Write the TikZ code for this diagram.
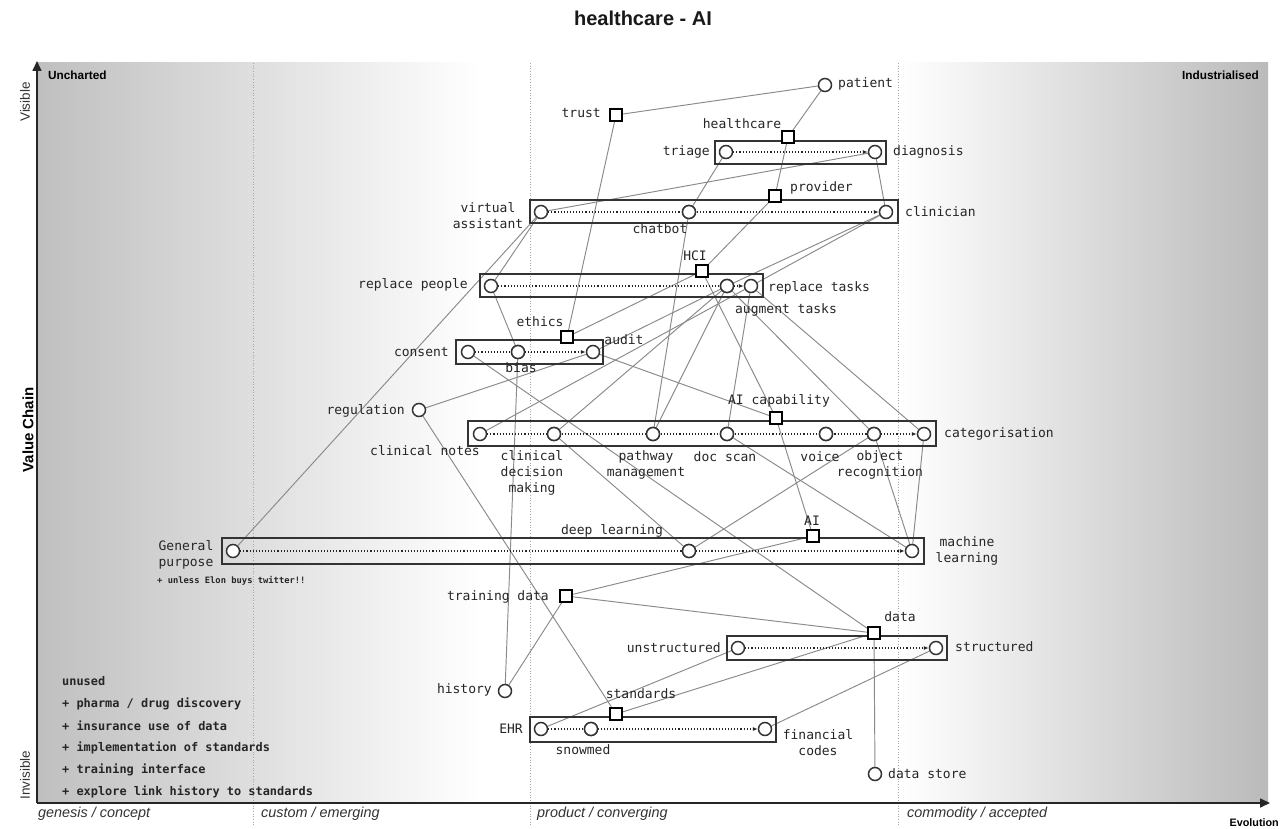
\documentclass[tikz,border=0pt]{standalone}
\usepackage{fontspec}
\setmainfont{Liberation Sans}
\setmonofont{DejaVu Sans Mono}
\usetikzlibrary{arrows.meta}
\pgfdeclarelayer{back}
\pgfdeclarelayer{links}
\pgfsetlayers{back,links,main}
\newcommand\monolbl{\ttfamily\fontsize{13}{16}\selectfont}
\newcommand\monobold{\ttfamily\bfseries\fontsize{11.9}{14}\selectfont}
\definecolor{linkgray}{HTML}{8A8A8A}
\definecolor{edgegray}{HTML}{333333}
\begin{document}
\begin{tikzpicture}[x=1pt,y=-1pt,
  comp/.style={circle,draw=edgegray,fill=white,line width=1.5pt,minimum size=13pt,inner sep=0pt},
  sq/.style={rectangle,draw=black,fill=white,line width=2.2pt,minimum size=11.5pt,inner sep=0pt},
  lbl/.style={font=\monolbl,inner sep=0pt,text=black!85},
  link/.style={draw=linkgray,line width=0.95pt},
  evo/.style={draw=black!85,dotted,line width=1.1pt,-{Latex[length=5pt,width=4pt]}},
  pipe/.style={draw=edgegray,line width=1.1pt},
  stage/.style={font=\itshape\fontsize{14.4}{16}\selectfont,text=black!80,anchor=west,inner sep=0pt},
  note/.style={font=\monobold,anchor=west,inner sep=0pt,text=black!85}]
\useasboundingbox (0,0) rectangle (1286,829);
\begin{pgfonlayer}{back}
\fill[white] (0,0) rectangle (1286,829);
\shade[left color=black!25,right color=white] (37,63) rectangle (480,803);
\shade[left color=white,right color=black!27] (900,63) rectangle (1268,803);
\foreach \xx in {253,530,898}{
  \draw[black!35,dotted,line width=0.7pt] (\xx,63) -- (\xx,826);
}
\end{pgfonlayer}
% axes
\draw[line width=1.6pt,black!85,-{Triangle[length=10pt,width=9pt]}] (37,803) -- (37,61);
\draw[line width=1.6pt,black!85,-{Triangle[length=10pt,width=9pt]}] (37,803) -- (1270,803);
% title and axis texts
\node[font=\bfseries\fontsize{20}{22}\selectfont,text=black!90] (title) at (643,18) {healthcare - AI};
\node[font=\bfseries\fontsize{11.8}{13}\selectfont,anchor=west,inner sep=0pt] (unch) at (48,75) {Uncharted};
\node[font=\bfseries\fontsize{11.8}{13}\selectfont,anchor=east,inner sep=0pt] (indu) at (1259,75) {Industrialised};
\node[font=\fontsize{13.5}{15}\selectfont,rotate=90,inner sep=0pt,text=black!80] (vis) at (25,102) {Visible};
\node[font=\bfseries\fontsize{15}{17}\selectfont,rotate=90,inner sep=0pt] (vchain) at (28,430) {Value Chain};
\node[font=\fontsize{13.5}{15}\selectfont,rotate=90,inner sep=0pt,text=black!80] (invis) at (25,775) {Invisible};
\node[stage] (s1) at (38,814) {genesis / concept};
\node[stage] (s2) at (261,814) {custom / emerging};
\node[stage] (s3) at (537,814) {product / converging};
\node[stage] (s4) at (907,814) {commodity / accepted};
\node[font=\bfseries\fontsize{10.8}{13}\selectfont,anchor=east,inner sep=0pt] (evol) at (1279,823) {Evolution};
% notes
\node[note] (u0) at (62,681) {unused};
\node[note] (u1) at (62,704) {+ pharma / drug discovery};
\node[note] (u2) at (62,726) {+ insurance use of data};
\node[note] (u3) at (62,748) {+ implementation of standards};
\node[note] (u4) at (62,770) {+ training interface};
\node[note] (u5) at (62,792) {+ explore link history to standards};
\node[note,font=\ttfamily\bfseries\fontsize{8.8}{11}\selectfont] (elon) at (157,581) {+ unless Elon buys twitter!!};
% pipeline boxes
\draw[pipe] (715,141) rectangle (886,164);
\draw[pipe] (530,200) rectangle (898,223);
\draw[pipe] (480,274) rectangle (763,297);
\draw[pipe] (456,340) rectangle (603,364);
\draw[pipe] (468,421) rectangle (936,446);
\draw[pipe] (222,538) rectangle (924,564);
\draw[pipe] (727,636) rectangle (947,660);
\draw[pipe] (530,717) rectangle (776,742);
% components
\node[comp] (patient) at (825,85) {};
\node[sq] (trust) at (616,115) {};
\node[sq] (healthcare) at (788,137) {};
\node[comp] (triage) at (726,152) {};
\node[comp] (diagnosis) at (875,152) {};
\node[sq] (provider) at (775,196) {};
\node[comp] (va) at (541,212) {};
\node[comp] (chatbot) at (689,212) {};
\node[comp] (clinician) at (886,212) {};
\node[sq] (hci) at (702,271) {};
\node[comp] (rpeople) at (491,286) {};
\node[comp] (atasks) at (727,286) {};
\node[comp] (rtasks) at (751,286) {};
\node[sq] (ethics) at (567,337) {};
\node[comp] (consent) at (468,352) {};
\node[comp] (bias) at (518,352) {};
\node[comp] (audit) at (593,352) {};
\node[comp] (regulation) at (419,410) {};
\node[sq] (aicap) at (776,418) {};
\node[comp] (cnotes) at (480,434) {};
\node[comp] (cdm) at (554,434) {};
\node[comp] (pathway) at (653,434) {};
\node[comp] (docscan) at (727,434) {};
\node[comp] (voice) at (826,434) {};
\node[comp] (objrec) at (874,434) {};
\node[comp] (categ) at (924,434) {};
\node[sq] (ai) at (813,536) {};
\node[comp] (gp) at (233,551) {};
\node[comp] (deepl) at (689,551) {};
\node[comp] (ml) at (912,551) {};
\node[sq] (tdata) at (566,596) {};
\node[sq] (data) at (874,633) {};
\node[comp] (unstr) at (738,648) {};
\node[comp] (struct) at (936,648) {};
\node[comp] (history) at (505,691) {};
\node[sq] (standards) at (616,714) {};
\node[comp] (ehr) at (541,729) {};
\node[comp] (snowmed) at (591,729) {};
\node[comp] (fincodes) at (765,729) {};
\node[comp] (dstore) at (875,774) {};
% evolution (pipelines)
\draw[evo] (triage) -- (diagnosis);
\draw[evo] (va) -- (clinician);
\draw[evo] (rpeople) -- (rtasks);
\draw[evo] (consent) -- (audit);
\draw[evo] (cnotes) -- (categ);
\draw[evo] (gp) -- (ml);
\draw[evo] (unstr) -- (struct);
\draw[evo] (ehr) -- (fincodes);
% redraw middle circles on top of dotted lines
\foreach \n in {chatbot,atasks,bias,cdm,pathway,docscan,voice,objrec,deepl,snowmed}{
  \node[comp] at (\n) {};
}
% links
\begin{pgfonlayer}{links}
\draw[link] (trust) -- (patient);
\draw[link] (trust) -- (ethics);
\draw[link] (patient) -- (healthcare);
\draw[link] (healthcare) -- (provider);
\draw[link] (provider) -- (hci);
\draw[link] (triage) -- (chatbot);
\draw[link] (diagnosis) -- (clinician);
\draw[link] (va) -- (diagnosis);
\draw[link] (va) -- (rpeople);
\draw[link] (va) -- (gp);
\draw[link] (chatbot) -- (pathway);
\draw[link] (clinician) -- (atasks);
\draw[link] (clinician) -- (rtasks);
\draw[link] (atasks) -- (audit);
\draw[link] (rtasks) -- (cnotes);
\draw[link] (atasks) -- (cdm);
\draw[link] (atasks) -- (pathway);
\draw[link] (rtasks) -- (docscan);
\draw[link] (atasks) -- (objrec);
\draw[link] (rtasks) -- (categ);
\draw[link] (hci) -- (ethics);
\draw[link] (hci) -- (aicap);
\draw[link] (aicap) -- (ai);
\draw[link] (audit) -- (aicap);
\draw[link] (regulation) -- (audit);
\draw[link] (regulation) -- (standards);
\draw[link] (rpeople) -- (bias);
\draw[link] (bias) -- (history);
\draw[link] (consent) -- (data);
\draw[link] (cdm) -- (deepl);
\draw[link] (deepl) -- (objrec);
\draw[link] (docscan) -- (ml);
\draw[link] (objrec) -- (ml);
\draw[link] (categ) -- (ml);
\draw[link] (ai) -- (tdata);
\draw[link] (tdata) -- (history);
\draw[link] (tdata) -- (data);
\draw[link] (data) -- (standards);
\draw[link] (data) -- (dstore);
\draw[link] (ehr) -- (unstr);
\draw[link] (fincodes) -- (struct);
\end{pgfonlayer}
% labels
\node[lbl,anchor=west] (Lpatient) at (838,84) {patient};
\node[lbl,anchor=east] (Ltrust) at (601,113) {trust};
\node[lbl] (Lhealthcare) at (742,124) {healthcare};
\node[lbl,anchor=east] (Ltriage) at (710,152) {triage};
\node[lbl,anchor=west] (Ldiagnosis) at (893,152) {diagnosis};
\node[lbl,anchor=west] (Lprovider) at (790,188) {provider};
\node[lbl,align=center] (Lva) at (488,216) {virtual\\assistant};
\node[lbl] (Lchatbot) at (660,229) {chatbot};
\node[lbl,anchor=west] (Lclinician) at (905,212) {clinician};
\node[lbl] (Lhci) at (695,256) {HCI};
\node[lbl,anchor=east] (Lrpeople) at (468,285) {replace people};
\node[lbl] (Latasks) at (786,310) {augment tasks};
\node[lbl,anchor=west] (Lrtasks) at (768,288) {replace tasks};
\node[lbl] (Lethics) at (540,322) {ethics};
\node[lbl,anchor=east] (Lconsent) at (449,352) {consent};
\node[lbl] (Lbias) at (521,368) {bias};
\node[lbl] (Laudit) at (624,340) {audit};
\node[lbl,anchor=east] (Lregulation) at (405,411) {regulation};
\node[lbl] (Laicap) at (779,401) {AI capability};
\node[lbl] (Lcnotes) at (425,451) {clinical notes};
\node[lbl,align=center,anchor=north] (Lcdm) at (532,450) {clinical\\decision\\making};
\node[lbl,align=center,anchor=north] (Lpathway) at (646,450) {pathway\\management};
\node[lbl] (Ldocscan) at (725,457) {doc scan};
\node[lbl] (Lvoice) at (820,457) {voice};
\node[lbl,align=center,anchor=north] (Lobjrec) at (880,450) {object\\recognition};
\node[lbl,anchor=west] (Lcateg) at (944,434) {categorisation};
\node[lbl] (Lai) at (812,521) {AI};
\node[lbl] (Ldeepl) at (612,531) {deep learning};
\node[lbl,align=center] (Lml) at (967,551) {machine\\learning};
\node[lbl,align=center] (Lgp) at (186,555) {General\\purpose};
\node[lbl,anchor=east] (Ltdata) at (549,597) {training data};
\node[lbl] (Ldata) at (900,617) {data};
\node[lbl,anchor=east] (Lunstr) at (721,648) {unstructured};
\node[lbl,anchor=west] (Lstruct) at (955,647) {structured};
\node[lbl,anchor=east] (Lhistory) at (492,690) {history};
\node[lbl] (Lstandards) at (641,694) {standards};
\node[lbl,anchor=east] (Lehr) at (523,729) {EHR};
\node[lbl] (Lsnowmed) at (583,750) {snowmed};
\node[lbl,align=center] (Lfincodes) at (818,743) {financial\\codes};
\node[lbl,anchor=west] (Ldstore) at (888,774) {data store};
\end{tikzpicture}
\end{document}
